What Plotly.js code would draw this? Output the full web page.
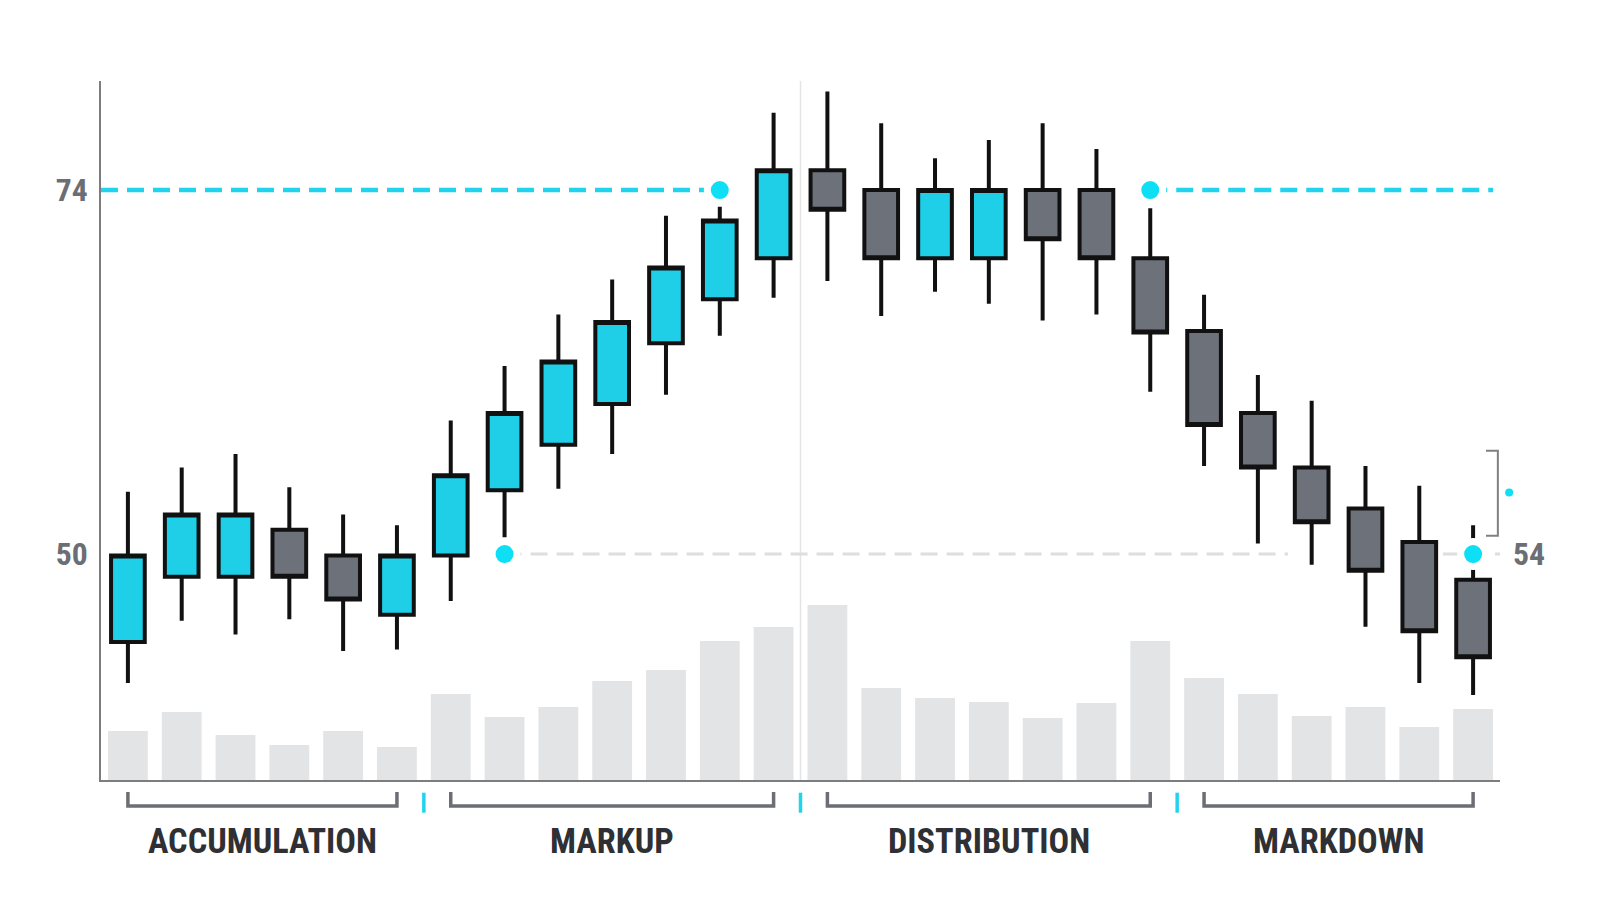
<!DOCTYPE html>
<html>
<head>
<meta charset="utf-8">
<script src="https://cdn.plot.ly/plotly-3.0.1.min.js"></script>
<style>
  html, body { margin: 0; padding: 0; background: #ffffff; }
  #chart { width: 1600px; height: 914px; }
</style>
</head>
<body>
<div id="chart"></div>
<script>
// ---------------- DATA ----------------
const sessions = [0, 1, 2, 3, 4, 5, 6, 7, 8, 9, 10, 11, 12, 13, 14, 15, 16, 17, 18, 19, 20, 21, 22, 23, 24, 25];
const openP  = [44.2, 48.5, 48.5, 51.6, 49.9, 46.0, 49.9, 54.2, 57.2, 59.9, 63.9, 66.8, 69.5, 75.3, 74.0, 69.5, 69.5, 74.0, 74.0, 69.5, 64.7, 59.3, 55.7, 53.0, 50.8, 48.3];
const highP  = [54.1, 55.7, 56.6, 54.4, 52.6, 51.9, 58.8, 62.4, 65.8, 68.1, 72.3, 72.9, 79.1, 80.5, 78.4, 76.1, 77.3, 78.4, 76.7, 72.8, 67.1, 61.8, 60.1, 55.8, 54.5, 51.9];
const lowP   = [41.5, 45.6, 44.7, 45.7, 43.6, 43.7, 46.9, 51.1, 54.3, 56.6, 60.5, 64.4, 66.9, 68.0, 65.7, 67.3, 66.5, 65.4, 65.8, 60.7, 55.8, 50.7, 49.3, 45.2, 41.5, 40.7];
const closeP = [49.9, 52.6, 52.6, 48.5, 47.0, 49.9, 55.2, 59.3, 62.7, 65.3, 68.9, 72.0, 75.3, 72.7, 69.5, 74.0, 74.0, 70.75, 69.5, 64.6, 58.5, 55.7, 52.1, 48.9, 44.9, 43.2];
const volume = [49, 68, 45, 35, 49, 33, 86, 63, 73, 99, 110, 139, 153, 175, 92, 82, 78, 62, 77, 139, 102, 86, 64, 73, 53, 71];

const phaseNames = ["ACCUMULATION", "MARKUP", "DISTRIBUTION", "MARKDOWN"];
const phaseStart = [0, 6, 13, 20];
const phaseEnd   = [5, 12, 19, 25];
const phaseSplit = [5.5, 12.5, 19.5];

const resistance = 74;
const support = 50;
const tickVals = [50, 74];
const tickText = ["50", "74"];
const rightLabel = "54";
const pivotX = [11, 7, 19, 25];
const pivotY = [74, 50, 74, 50];
const targetX = [25.67];
const targetY = [54.05];

// ---------------- FONT PICK ----------------
const ctx = document.createElement('canvas').getContext('2d');
function fontAvailable(f) {
  const t = 'ACCUMULATION 0123456789';
  ctx.font = '700 40px monospace'; const w1 = ctx.measureText(t).width;
  ctx.font = '700 40px "' + f + '", monospace'; const w2 = ctx.measureText(t).width;
  ctx.font = '700 40px serif'; const w3 = ctx.measureText(t).width;
  ctx.font = '700 40px "' + f + '", serif'; const w4 = ctx.measureText(t).width;
  return w1 !== w2 || w3 !== w4;
}
const cands = ['Roboto Condensed', 'Liberation Sans Narrow', 'DejaVu Sans Condensed', 'Roboto'];
const labelFont = cands.find(fontAvailable) || 'Roboto';
function sizeFor(text, targetW, maxSize) {
  ctx.font = '700 100px "' + labelFont + '"';
  const s = 100 * targetW / ctx.measureText(text).width;
  return Math.min(s, maxSize);
}
const phaseSize = sizeFor('ACCUMULATION', 229, 35);
const tickSize = sizeFor('74', 32, 32);

// ---------------- COLORS ----------------
const CYAN = '#22d3ee';
const DOT = '#0fdff4';
const BODY_UP = '#1fcfe8';
const BODY_DN = '#6c717a';
const INK = '#111111';
const AXIS = '#7d7d7d';
const LABEL = '#6b6e74';

// ---------------- GEOMETRY HELPERS ----------------
const plotTop = 81, plotBot = 780, plotH = plotBot - plotTop;
const plotLeft = 101, plotRight = 1500, plotW = plotRight - plotLeft;
const yMin = 35.10, yMax = 81.19, xMin = -0.5, xMax = 25.5;
const py = px => (plotBot - px) / plotH;
const dataToPaperX = v => (v - xMin) / (xMax - xMin);
const dataToPaperY = v => (v - yMin) / (yMax - yMin);

// ---------------- TRACES ----------------
const volTrace = {
  type: 'bar', x: sessions, y: volume, yaxis: 'y2',
  width: 0.74, marker: { color: '#e2e4e6', line: { width: 0 } },
  hoverinfo: 'skip'
};
const candleTrace = {
  type: 'candlestick', x: sessions,
  open: openP, high: highP, low: lowP, close: closeP,
  increasing: { fillcolor: BODY_UP, line: { color: INK, width: 4 } },
  decreasing: { fillcolor: BODY_DN, line: { color: INK, width: 4 } },
  whiskerwidth: 0, hoverinfo: 'skip'
};
const pivotTrace = {
  type: 'scatter', mode: 'markers', x: pivotX, y: pivotY,
  marker: { size: 25, color: DOT, line: { color: '#ffffff', width: 7 } },
  cliponaxis: false, hoverinfo: 'skip'
};

// ---------------- SHAPES ----------------
const shapes = [];
shapes.push({ type: 'line', xref: 'x', yref: 'paper', x0: 12.5, x1: 12.5, y0: 0, y1: 1,
  line: { color: '#e4e4e4', width: 1.5 }, layer: 'below' });
shapes.push({ type: 'line', xref: 'x', yref: 'y', x0: -0.5, x1: pivotX[0], y0: resistance, y1: resistance,
  line: { color: CYAN, width: 4.5, dash: '17px,9px' }, layer: 'below' });
shapes.push({ type: 'line', xref: 'x', yref: 'y', x0: pivotX[2], x1: 25.37, y0: resistance, y1: resistance,
  line: { color: CYAN, width: 4.5, dash: '17px,9px' }, layer: 'below' });
shapes.push({ type: 'line', xref: 'x', yref: 'y', x0: pivotX[1], x1: 21.56, y0: support, y1: support,
  line: { color: '#dedede', width: 3, dash: '17px,9px' }, layer: 'below' });
shapes.push({ type: 'line', xref: 'x', yref: 'y', x0: 24.44, x1: 25.5, y0: support, y1: support,
  line: { color: '#dedede', width: 3, dash: '17px,9px' }, layer: 'below' });

const yTickTop = py(792), yBar = py(806);
phaseNames.forEach((n, i) => {
  const a = phaseStart[i], b = phaseEnd[i];
  shapes.push({ type: 'path', xref: 'x', yref: 'paper',
    path: `M ${a},${yTickTop} L ${a},${yBar} L ${b},${yBar} L ${b},${yTickTop}`,
    line: { color: LABEL, width: 3.5 } });
});
phaseSplit.forEach(s => {
  shapes.push({ type: 'line', xref: 'x', yref: 'paper', x0: s, x1: s, y0: py(792.7), y1: py(812.7),
    line: { color: CYAN, width: 3.5 } });
});
// small bracket at right edge
shapes.push({ type: 'path', xref: 'x', yref: 'y',
  path: 'M 25.24,56.81 L 25.46,56.81 L 25.46,51.21 L 25.24,51.21',
  line: { color: '#808080', width: 2 } });
// small target dot just outside the plot edge
targetX.forEach((tx, i) => {
  shapes.push({ type: 'circle', xref: 'paper', yref: 'paper',
    xsizemode: 'pixel', ysizemode: 'pixel',
    xanchor: dataToPaperX(tx), yanchor: dataToPaperY(targetY[i]),
    x0: -4, x1: 4, y0: -4, y1: 4,
    fillcolor: DOT, line: { width: 0 } });
});

// ---------------- ANNOTATIONS ----------------
const annotations = phaseNames.map((n, i) => ({
  text: n, xref: 'x', yref: 'paper',
  x: (phaseStart[i] + phaseEnd[i]) / 2, y: py(840.7),
  xanchor: 'center', yanchor: 'middle', showarrow: false,
  font: { family: labelFont, size: phaseSize, color: '#2f3033', weight: 700 }
}));
annotations.push({
  text: rightLabel, xref: 'x', yref: 'y', x: 25.5, y: support,
  xanchor: 'left', yanchor: 'middle', xshift: 11, showarrow: false,
  font: { family: labelFont, size: tickSize, color: LABEL, weight: 700 }
});

// ---------------- LAYOUT ----------------
const layout = {
  width: 1600, height: 914,
  margin: { l: plotLeft, r: 1600 - plotRight, t: plotTop, b: 914 - plotBot, pad: 0 },
  paper_bgcolor: '#ffffff', plot_bgcolor: '#ffffff',
  showlegend: false, hovermode: false,
  boxgap: 0.374, boxgroupgap: 0,
  xaxis: {
    range: [xMin, xMax], showticklabels: false, showgrid: false, zeroline: false,
    showline: true, linecolor: AXIS, linewidth: 2, ticks: '',
    rangeslider: { visible: false }, fixedrange: true
  },
  yaxis: {
    range: [yMin, yMax], tickvals: tickVals, ticktext: tickText,
    showgrid: false, zeroline: false, showline: true, linecolor: AXIS, linewidth: 2,
    ticks: '', ticklabelstandoff: 5,
    tickfont: { family: labelFont, size: tickSize, color: LABEL, weight: 700 },
    fixedrange: true
  },
  yaxis2: { overlaying: 'y', range: [0, plotH], visible: false, fixedrange: true },
  shapes: shapes,
  annotations: annotations
};

Plotly.newPlot('chart', [volTrace, candleTrace, pivotTrace], layout,
  { displayModeBar: false, staticPlot: true });
</script>
</body>
</html>
